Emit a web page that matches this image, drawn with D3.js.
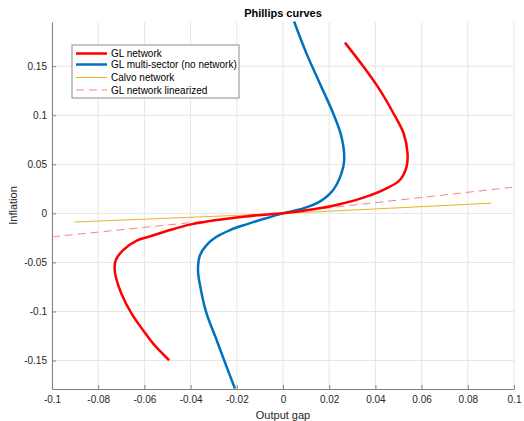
<!DOCTYPE html>
<html>
<head>
<meta charset="utf-8">
<script src="https://cdn.jsdelivr.net/npm/d3@7"></script>
<style>
  body { margin: 0; background: #fff; }
  svg { font-family: "Liberation Sans", Arial, sans-serif; }
</style>
</head>
<body>
<div id="chart"></div>
<script>
// curves: [output gap, inflation]
const glNetwork = [
  [-0.0493, -0.1497], [-0.0562, -0.1327], [-0.0606, -0.119], [-0.0656, -0.102],
  [-0.0700, -0.0816], [-0.0724, -0.0647], [-0.0729, -0.0545], [-0.0724, -0.0477],
  [-0.0692, -0.0374], [-0.0635, -0.0280], [-0.0576, -0.0235], [-0.0489, -0.0170],
  [-0.0403, -0.0115], [-0.0288, -0.0068], [-0.0201, -0.0043], [-0.0114, -0.0020],
  [0, 0],
  [0.0131, 0.0041], [0.0245, 0.0092], [0.0361, 0.017], [0.0448, 0.0255],
  [0.0506, 0.034], [0.0535, 0.0476], [0.0539, 0.0612], [0.0522, 0.0816],
  [0.0478, 0.102], [0.0419, 0.1258], [0.0348, 0.1496], [0.0268, 0.174]
];
const glMultiSector = [
  [-0.0208, -0.1785], [-0.0244, -0.1565], [-0.0287, -0.1293], [-0.0331, -0.102],
  [-0.0355, -0.0783], [-0.0368, -0.0579], [-0.0359, -0.0425], [-0.0331, -0.0323],
  [-0.0288, -0.0239], [-0.0229, -0.0170], [-0.0158, -0.0112], [-0.0085, -0.0058],
  [0, 0],
  [0.0087, 0.0050], [0.0159, 0.0119], [0.0217, 0.0238], [0.0253, 0.0408],
  [0.0265, 0.0544], [0.0253, 0.0782], [0.0217, 0.102], [0.0159, 0.1327],
  [0.0101, 0.1633], [0.0048, 0.1955]
];
const calvoNetwork = [[-0.0905, -0.0088], [0, 0], [0.0902, 0.0104]];
const glLinearized = [[-0.1, -0.0239], [0, 0.0005], [0.1, 0.0268]];

const xTicks = [-0.1, -0.08, -0.06, -0.04, -0.02, 0, 0.02, 0.04, 0.06, 0.08, 0.1];
const xTickLabels = ["-0.1", "-0.08", "-0.06", "-0.04", "-0.02", "0", "0.02", "0.04", "0.06", "0.08", "0.1"];
const yTicks = [-0.15, -0.1, -0.05, 0, 0.05, 0.1, 0.15];
const yTickLabels = ["-0.15", "-0.1", "-0.05", "0", "0.05", "0.1", "0.15"];

const seriesNames = ["GL network", "GL multi-sector (no network)", "Calvo network", "GL network linearized"];

const width = 524, height = 421;
const margin = {top: 22, right: 10, bottom: 32, left: 52};

const svg = d3.select("#chart").append("svg")
  .attr("width", width).attr("height", height);

const x = d3.scaleLinear().domain([-0.1, 0.1]).range([margin.left, width - margin.right]);
const y = d3.scaleLinear().domain([-0.179, 0.195]).range([height - margin.bottom, margin.top]);

// grid
const grid = svg.append("g");
grid.selectAll(".gx").data(xTicks).join("line")
  .attr("x1", d => x(d)).attr("x2", d => x(d))
  .attr("y1", y.range()[0]).attr("y2", y.range()[1])
  .attr("stroke", "#e6e6e6").attr("stroke-width", 1);
grid.selectAll(".gy").data(yTicks).join("line")
  .attr("x1", x.range()[0]).attr("x2", x.range()[1])
  .attr("y1", d => y(d)).attr("y2", d => y(d))
  .attr("stroke", "#e6e6e6").attr("stroke-width", 1);

// axes (ticks inward, like matlab)
const xAxis = svg.append("g")
  .attr("transform", `translate(0,${height - margin.bottom})`)
  .call(d3.axisBottom(x).tickValues(xTicks).tickFormat((d, i) => xTickLabels[i]).tickSizeInner(-4).tickSizeOuter(0).tickPadding(7));
const yAxis = svg.append("g")
  .attr("transform", `translate(${margin.left},0)`)
  .call(d3.axisLeft(y).tickValues(yTicks).tickFormat((d, i) => yTickLabels[i]).tickSizeInner(-4).tickSizeOuter(0).tickPadding(5));

[xAxis, yAxis].forEach(a => {
  a.select(".domain").attr("stroke", "#808080");
  a.selectAll(".tick line").attr("stroke", "#808080");
  a.selectAll("text").attr("fill", "#262626").style("font-size", "10px");
});

// curves
const line = d3.line().x(d => x(d[0])).y(d => y(d[1])).curve(d3.curveCatmullRom.alpha(0.5));
const plot = svg.append("g");

plot.append("path").datum(glLinearized)
  .attr("d", line).attr("fill", "none")
  .attr("stroke", "#ff8080").attr("stroke-width", 1).attr("stroke-dasharray", "8,5");
plot.append("path").datum(calvoNetwork)
  .attr("d", line).attr("fill", "none")
  .attr("stroke", "#edb120").attr("stroke-width", 1);
plot.append("path").datum(glMultiSector)
  .attr("d", line).attr("fill", "none")
  .attr("stroke", "#0072bd").attr("stroke-width", 2.5);
plot.append("path").datum(glNetwork)
  .attr("d", line).attr("fill", "none")
  .attr("stroke", "#ff0000").attr("stroke-width", 2.5);

// title and labels
svg.append("text").attr("x", x(0)).attr("y", 17)
  .attr("text-anchor", "middle").attr("font-weight", "bold")
  .style("font-size", "11px").attr("fill", "#000").text("Phillips curves");
svg.append("text").attr("x", x(0)).attr("y", 419)
  .attr("text-anchor", "middle").style("font-size", "11px").attr("fill", "#262626").text("Output gap");
svg.append("text").attr("transform", `translate(17,${(y.range()[0] + y.range()[1]) / 2}) rotate(-90)`)
  .attr("text-anchor", "middle").style("font-size", "11px").attr("fill", "#262626").text("Inflation");

// legend
const legend = svg.append("g").attr("transform", "translate(72,45)");
legend.append("rect").attr("width", 167).attr("height", 53)
  .attr("fill", "#fff").attr("stroke", "#8c8c8c").attr("stroke-width", 1);
const legStyles = [
  {c: "#ff0000", w: 2.5, dash: null},
  {c: "#0072bd", w: 2.5, dash: null},
  {c: "#edb120", w: 1, dash: null},
  {c: "#ff8080", w: 1, dash: "8,5"}
];
const legRows = [8.5, 19.5, 32.5, 45];
seriesNames.forEach((name, i) => {
  const g = legend.append("g").attr("transform", `translate(0,${legRows[i]})`);
  g.append("line").attr("x1", 4).attr("x2", 35).attr("y1", 0).attr("y2", 0)
    .attr("stroke", legStyles[i].c).attr("stroke-width", legStyles[i].w)
    .attr("stroke-dasharray", legStyles[i].dash);
  g.append("text").attr("x", 39).attr("y", 0).attr("dy", "0.35em")
    .style("font-size", "10px").attr("fill", "#000").text(name);
});
</script>
</body>
</html>
